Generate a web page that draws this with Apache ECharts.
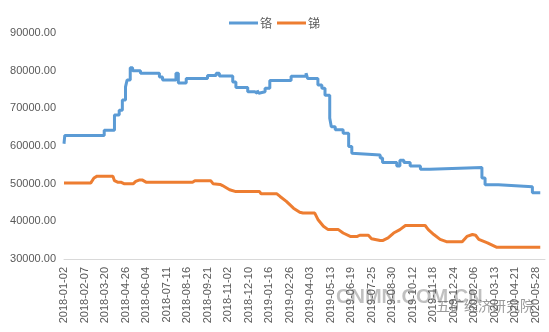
<!DOCTYPE html>
<html>
<head>
<meta charset="utf-8">
<script src="https://cdn.jsdelivr.net/npm/echarts@6/dist/echarts.min.js"></script>
<style>
html,body{margin:0;padding:0;background:#fff;}
#c{width:549px;height:332px;}
</style>
</head>
<body>
<div id="c"></div>
<script>
// Tick labels (every 26th trading day)
const tickLabels = ["2018-01-02","2018-02-07","2018-03-20","2018-04-26","2018-06-04","2018-07-11","2018-08-16","2018-09-21","2018-11-02","2018-12-10","2019-01-16","2019-02-26","2019-04-03","2019-05-13","2019-06-19","2019-07-25","2019-08-30","2019-10-12","2019-11-18","2019-12-24","2020-02-06","2020-03-13","2020-04-21","2020-05-28"];
const labelStep = 26;
const seriesNames = ["铬","锑"];
// [trading-day index, price] change points
const chromium = [[0,60600],[1,62800],[51,64200],[64,68200],[70,69500],[74,72200],[78,75700],[80,77500],[84,80800],[87,80000],[97,79300],[121,78300],[125,77500],[142,79300],[145,76700],[155,77900],[182,78700],[193,79300],[197,78600],[214,77000],[218,75500],[233,74400],[242,74000],[245,74700],[247,74000],[248,74400],[255,75300],[261,77400],[288,78500],[307,79300],[309,77900],[322,76200],[327,75300],[331,73500],[337,67400],[339,65100],[344,64300],[354,63400],[361,59900],[365,58100],[367,57600],[401,56800],[404,55600],[422,54700],[426,56200],[431,55600],[439,54700],[452,53800],[464,54300],[530,51500],[534,49700],[551,49200],[594,47600],[604,47600]];
const antimony = [[0,50200],[34,50200],[38,51500],[42,52000],[62,52000],[64,50800],[68,50400],[72,50400],[76,50000],[88,50000],[91,50600],[96,51000],[99,51000],[104,50400],[163,50400],[166,50800],[186,50800],[189,50000],[198,49800],[201,49500],[210,48400],[218,47900],[248,47900],[250,47300],[270,47300],[274,46600],[282,45300],[291,43500],[299,42400],[303,42200],[318,42200],[322,40500],[329,38700],[335,37800],[348,37800],[354,36900],[363,36000],[372,36000],[375,36300],[386,36300],[390,35400],[401,34900],[404,34900],[411,35600],[418,36900],[426,37800],[433,38900],[458,38900],[462,37800],[469,36500],[477,35200],[485,34600],[505,34600],[511,36000],[518,36500],[522,36300],[526,35200],[537,34300],[549,33100],[604,33100]];

const chart = echarts.init(document.getElementById('c'));
chart.setOption({
  animation:false,
  backgroundColor:'#fff',
  textStyle:{fontFamily:'Liberation Sans, Arial, sans-serif'},
  legend:{
    top:12, left:'center',
    itemWidth:29, itemHeight:3, itemGap:5,
    icon:'rect',
    textStyle:{fontFamily:'Noto Sans CJK SC',fontSize:12,color:'#595959',padding:[0,0,0,-3]},
    data:seriesNames
  },
  grid:{left:64,right:4,top:33,bottom:73,containLabel:false},
  xAxis:{
    type:'value', min:0, max:610, interval:labelStep,
    axisLine:{show:true,lineStyle:{color:'#D9D9D9',width:1}},
    axisTick:{show:false},
    splitLine:{show:false},
    axisLabel:{
      rotate:90, margin:8, color:'#595959', fontSize:11,
      fontFamily:'Liberation Sans, Arial, sans-serif',
      showMaxLabel:false,
      formatter:function(v){ return (v % labelStep === 0 && tickLabels[v/labelStep]) || ''; }
    }
  },
  yAxis:{
    type:'value', min:30000, max:90000, interval:10000,
    axisLine:{show:false}, axisTick:{show:false}, splitLine:{show:false},
    axisLabel:{color:'#595959',fontSize:11,margin:8,
      fontFamily:'Liberation Sans, Arial, sans-serif',
      formatter:function(v){return v.toFixed(2);}}
  },
  series:[
    {name:seriesNames[0],type:'line',step:'end',data:chromium,symbol:'none',
     lineStyle:{color:'#5B9BD5',width:3},itemStyle:{color:'#5B9BD5'}},
    {name:seriesNames[1],type:'line',data:antimony,symbol:'none',
     lineStyle:{color:'#ED7D31',width:3},itemStyle:{color:'#ED7D31'}}
  ],
  graphic:[
    {type:'text',left:336,top:287,silent:true,
     style:{text:'CNMN.COM.CN',font:'bold 20px Liberation Sans, Arial, sans-serif',fill:'rgba(140,140,140,0.55)'}},
    {type:'text',left:436,top:299,silent:true,
     style:{text:'五矿经济研究院',font:'14px Noto Sans CJK SC',fill:'rgba(70,70,70,0.55)'}}
  ]
});
</script>
</body>
</html>
